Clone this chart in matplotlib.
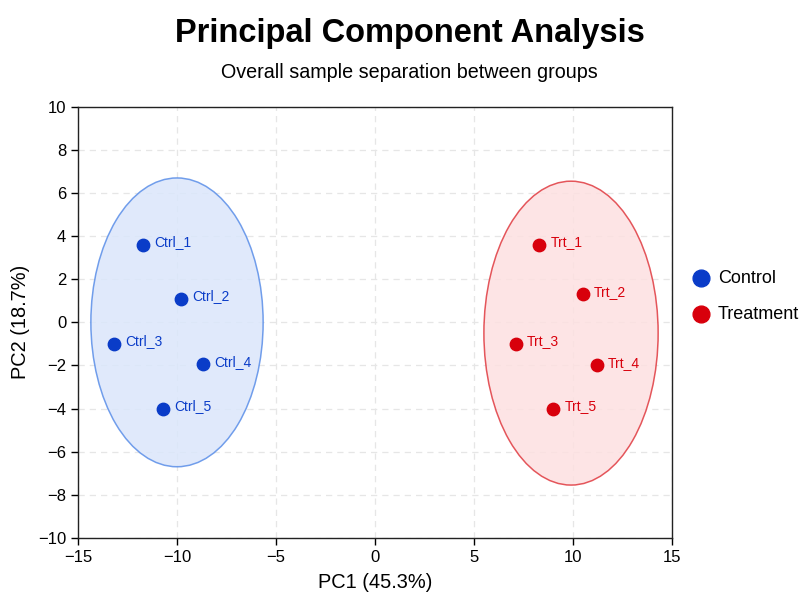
import matplotlib.pyplot as plt
from matplotlib.patches import Ellipse

plt.rcParams['font.family'] = ['Liberation Sans', 'DejaVu Sans']

# sample scores
ctrl_names = ['Ctrl_1', 'Ctrl_2', 'Ctrl_3', 'Ctrl_4', 'Ctrl_5']
ctrl_pc1 = [-11.7, -9.8, -13.2, -8.7, -10.7]
ctrl_pc2 = [3.6, 1.1, -1.0, -1.95, -4.0]

trt_names = ['Trt_1', 'Trt_2', 'Trt_3', 'Trt_4', 'Trt_5']
trt_pc1 = [8.3, 10.5, 7.1, 11.2, 9.0]
trt_pc2 = [3.6, 1.3, -1.0, -2.0, -4.0]

# group ellipses: center x, center y, width, height
ctrl_ell = (-10.0, 0.0, 8.7, 13.4)
trt_ell = (9.9, -0.5, 8.8, 14.1)

blue = '#0a3cc8'
red = '#d8000c'

fig = plt.figure(figsize=(8, 6.14), dpi=100)
ax = fig.add_axes([0.0975, 0.124, 0.7425, 0.702])

ax.add_patch(Ellipse(ctrl_ell[:2], ctrl_ell[2], ctrl_ell[3], facecolor='#dbe6fb',
                     edgecolor='#5a8ee8', lw=1.1, alpha=0.85, zorder=1))
ax.add_patch(Ellipse(trt_ell[:2], trt_ell[2], trt_ell[3], facecolor='#fde0e1',
                     edgecolor='#e03a40', lw=1.1, alpha=0.85, zorder=1))

ax.scatter(ctrl_pc1, ctrl_pc2, s=80, color=blue, zorder=3, label='Control')
ax.scatter(trt_pc1, trt_pc2, s=80, color=red, zorder=3, label='Treatment')

for n, x, y in zip(ctrl_names, ctrl_pc1, ctrl_pc2):
    ax.annotate(n, (x, y), xytext=(8, 2), textcoords='offset points',
                color=blue, fontsize=10, va='center')
for n, x, y in zip(trt_names, trt_pc1, trt_pc2):
    ax.annotate(n, (x, y), xytext=(8, 2), textcoords='offset points',
                color=red, fontsize=10, va='center')

ax.set_xlim(-15, 15)
ax.set_ylim(-10, 10)
ax.set_xticks(range(-15, 16, 5))
ax.set_yticks(range(-10, 11, 2))
ax.tick_params(labelsize=12, direction='out', length=5, width=1)
ax.grid(True, ls=(0, (5, 4)), color='#e6e6e6', lw=0.9)
ax.set_axisbelow(True)
for sp in ax.spines.values():
    sp.set_color('#222222')
    sp.set_linewidth(1)

ax.set_xlabel('PC1 (45.3%)', fontsize=14.4, labelpad=6)
ax.set_ylabel('PC2 (18.7%)', fontsize=14.4, labelpad=6)

fig.text(0.512, 0.945, 'Principal Component Analysis', ha='center', va='center',
         fontsize=23.5, fontweight='bold')
fig.text(0.512, 0.882, 'Overall sample separation between groups', ha='center',
         va='center', fontsize=14.2)

ax.legend(loc='center left', bbox_to_anchor=(1.004, 0.56), frameon=False,
          fontsize=13, markerscale=1.35, handlelength=1.2, handletextpad=0.3,
          labelspacing=1.05)

fig.savefig('out.png', dpi=100)
